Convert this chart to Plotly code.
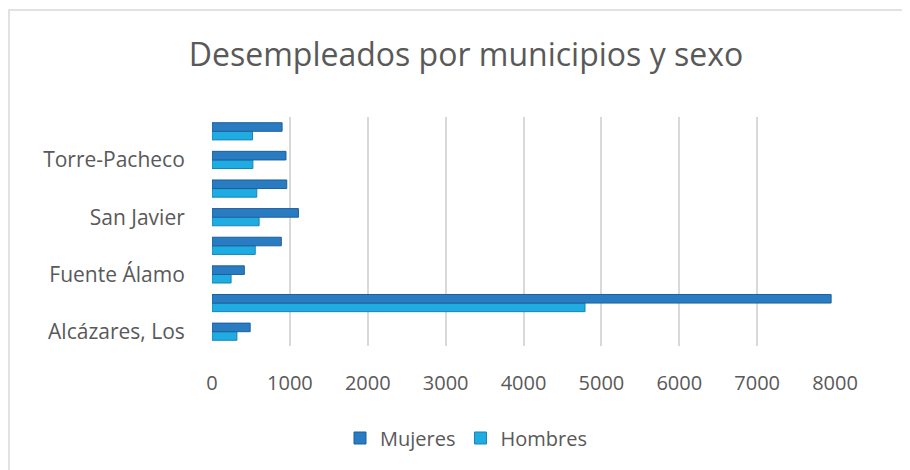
import plotly.graph_objects as go

municipios = ["Alcázares, Los", "Cartagena", "Fuente Álamo", "Mazarrón",
              "San Javier", "San Pedro del Pinatar", "Torre-Pacheco", "Unión, La"]
mujeres = [490, 7950, 415, 890, 1110, 960, 950, 900]
hombres = [320, 4790, 245, 555, 605, 575, 525, 520]
etiquetas_visibles = ["Alcázares, Los", "Fuente Álamo", "San Javier", "Torre-Pacheco"]
x_ticks = [0, 1000, 2000, 3000, 4000, 5000, 6000, 7000, 8000]

FONT = "Open Sans"
GRAY = "#595959"

fig = go.Figure()
fig.add_trace(go.Bar(
    y=municipios, x=hombres, name="Hombres", orientation="h",
    marker=dict(color="#1eace2", line=dict(color="#1685b3", width=1)),
))
fig.add_trace(go.Bar(
    y=municipios, x=mujeres, name="Mujeres", orientation="h",
    marker=dict(color="#2a7cc2", line=dict(color="#1d5f99", width=1)),
))

OFF = 8  # default page body margin
W, H = 910 - OFF, 470 - OFF
L, R, T, B = 212 - OFF, 835 - OFF, 117 - OFF, 346 - OFF

def px_x(p):
    return (p - OFF - L) / (R - L)

def px_y(p):
    return (B - (p - OFF)) / (B - T)

fig.update_layout(
    width=W, height=H,
    margin=dict(l=L, r=W - R, t=T, b=H - B),
    paper_bgcolor="white", plot_bgcolor="white",
    barmode="group", bargap=0.4, bargroupgap=0,
    font=dict(family=FONT, color=GRAY, size=21),
    title=dict(text="Desempleados por municipios y sexo",
               font=dict(family=FONT, size=32, color=GRAY),
               xref="container", x=(466 - OFF) / W, xanchor="center",
               yref="container", y=1 - (55 - OFF) / H, yanchor="middle"),
    legend=dict(orientation="h", traceorder="reversed",
                xref="container", x=(466 - OFF) / W, xanchor="center",
                yref="container", y=1 - (438 - OFF) / H, yanchor="middle",
                font=dict(family=FONT, size=20, color=GRAY),
                itemwidth=30),
    xaxis=dict(range=[0, 8000], tickvals=x_ticks, showgrid=True,
               gridcolor="#d9d9d9", gridwidth=2, zeroline=False,
               ticks="outside", ticklen=19, tickcolor="rgba(0,0,0,0)",
               tickfont=dict(size=20, color=GRAY), showline=False),
    yaxis=dict(categoryorder="array", categoryarray=municipios,
               tickvals=etiquetas_visibles, showgrid=False, zeroline=False,
               ticks="outside", ticklen=22, tickcolor="rgba(0,0,0,0)",
               tickfont=dict(size=21, color=GRAY), showline=False,
               range=[-0.5, 7.5]),
    showlegend=True,
)

fig.add_shape(type="rect", xref="paper", yref="paper",
              x0=px_x(9), x1=px_x(925), y0=px_y(480), y1=px_y(10),
              line=dict(color="#d9d9d9", width=1.5), layer="below")

fig.write_html("out.html")
